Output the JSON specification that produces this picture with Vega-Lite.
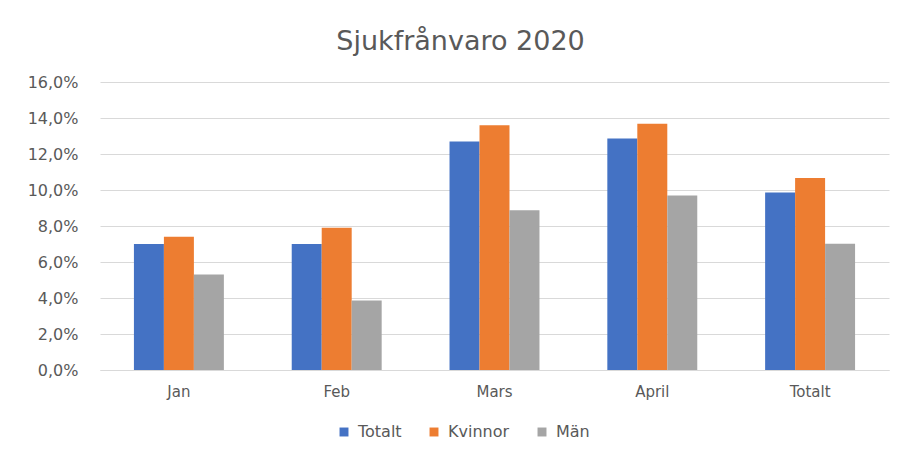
{
  "$schema": "https://vega.github.io/schema/vega-lite/v6.json",
  "width": 789,
  "height": 288,
  "autosize": {"type": "none"},
  "padding": {"left": 100, "top": 82, "right": 17, "bottom": 82},
  "background": "white",
  "title": {
    "text": "Sjukfrånvaro 2020",
    "font": "DejaVu Sans",
    "fontSize": 27,
    "fontWeight": "normal",
    "color": "#595959",
    "anchor": "middle",
    "dx": -34,
    "offset": 18
  },
  "data": {
    "values": [
      {"month": "Jan", "series": "Totalt", "value": 7.0},
      {"month": "Jan", "series": "Kvinnor", "value": 7.4},
      {"month": "Jan", "series": "Män", "value": 5.3},
      {"month": "Feb", "series": "Totalt", "value": 7.0},
      {"month": "Feb", "series": "Kvinnor", "value": 7.9},
      {"month": "Feb", "series": "Män", "value": 3.86},
      {"month": "Mars", "series": "Totalt", "value": 12.7},
      {"month": "Mars", "series": "Kvinnor", "value": 13.6},
      {"month": "Mars", "series": "Män", "value": 8.88},
      {"month": "April", "series": "Totalt", "value": 12.86},
      {"month": "April", "series": "Kvinnor", "value": 13.68},
      {"month": "April", "series": "Män", "value": 9.7},
      {"month": "Totalt", "series": "Totalt", "value": 9.86},
      {"month": "Totalt", "series": "Kvinnor", "value": 10.66},
      {"month": "Totalt", "series": "Män", "value": 7.02}
    ]
  },
  "mark": {"type": "bar"},
  "encoding": {
    "x": {
      "field": "month",
      "type": "nominal",
      "sort": ["Jan", "Feb", "Mars", "April", "Totalt"],
      "scale": {"paddingInner": 0.43, "paddingOuter": 0.215},
      "axis": {
        "title": null,
        "labelAngle": 0,
        "ticks": false,
        "labelPadding": 14,
        "labelFont": "DejaVu Sans",
        "labelFontSize": 15,
        "labelColor": "#595959",
        "domainColor": "#d9d9d9",
        "domainWidth": 1,
        "grid": false
      }
    },
    "xOffset": {
      "field": "series",
      "type": "nominal",
      "sort": ["Totalt", "Kvinnor", "Män"],
      "scale": {"paddingInner": 0, "paddingOuter": 0}
    },
    "y": {
      "field": "value",
      "type": "quantitative",
      "scale": {"domain": [0, 16], "nice": false},
      "axis": {
        "title": null,
        "values": [0, 2, 4, 6, 8, 10, 12, 14, 16],
        "labelExpr": "replace(format(datum.value, '.1f'), '.', ',') + '%'",
        "ticks": false,
        "domain": false,
        "labelPadding": 22,
        "labelFont": "DejaVu Sans",
        "labelFontSize": 16,
        "labelColor": "#595959",
        "gridColor": "#d9d9d9",
        "gridWidth": 1
      }
    },
    "color": {
      "field": "series",
      "type": "nominal",
      "sort": ["Totalt", "Kvinnor", "Män"],
      "scale": {
        "domain": ["Totalt", "Kvinnor", "Män"],
        "range": ["#4472C4", "#ED7D31", "#A5A5A5"]
      },
      "legend": {
        "title": null,
        "orient": "none",
        "legendX": 236,
        "legendY": 342,
        "direction": "horizontal",
        "symbolType": "square",
        "symbolSize": 80,
        "symbolStrokeWidth": 0,
        "labelFont": "DejaVu Sans",
        "labelFontSize": 16,
        "labelColor": "#595959",
        "columnPadding": 24,
        "labelOffset": 6
      }
    }
  },
  "config": {
    "view": {"stroke": null}
  }
}
